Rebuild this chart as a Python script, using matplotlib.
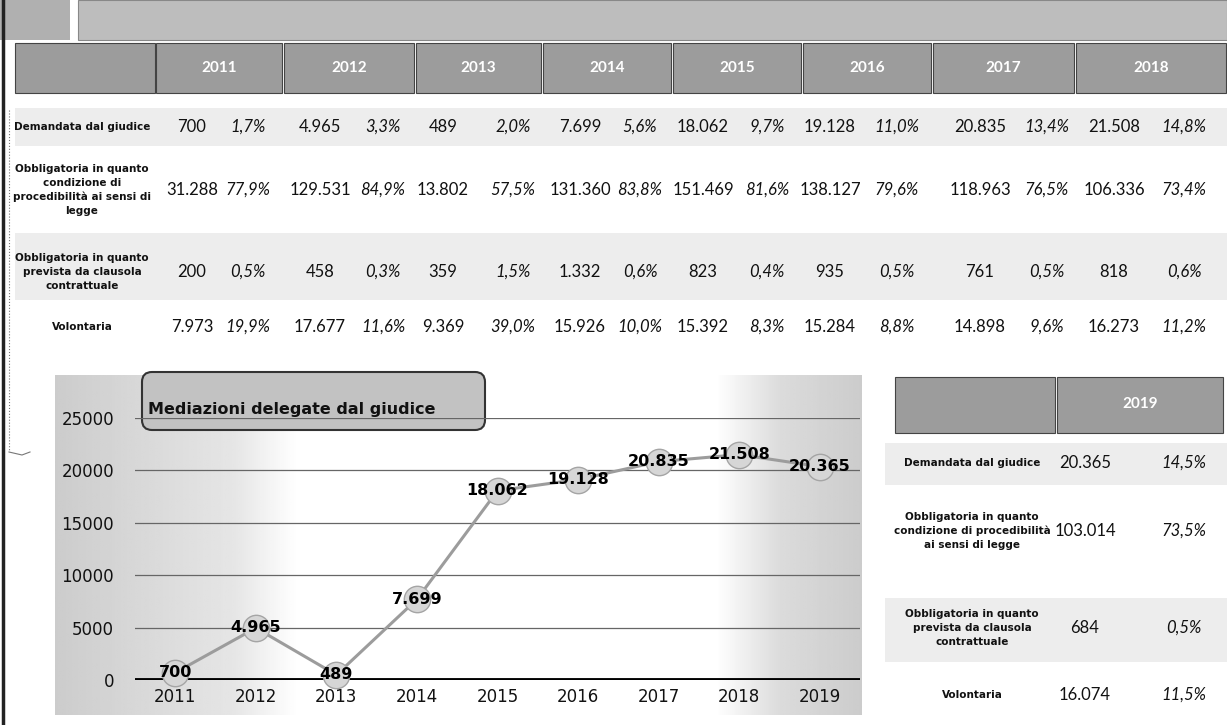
import numpy as np
import matplotlib
matplotlib.use("Agg")
import matplotlib.pyplot as plt
from matplotlib.patches import Rectangle, FancyBboxPatch

# --- data ---
years_top = ['2011', '2012', '2013', '2014', '2015', '2016', '2017', '2018']
row_labels = ['Demandata dal giudice',
              'Obbligatoria in quanto\ncondizione di\nprocedibilità ai sensi di\nlegge',
              'Obbligatoria in quanto\nprevista da clausola\ncontrattuale',
              'Volontaria']
demandata = [700, 4965, 489, 7699, 18062, 19128, 20835, 21508]
demandata_pct = [1.7, 3.3, 2.0, 5.6, 9.7, 11.0, 13.4, 14.8]
obbl_legge = [31288, 129531, 13802, 131360, 151469, 138127, 118963, 106336]
obbl_legge_pct = [77.9, 84.9, 57.5, 83.8, 81.6, 79.6, 76.5, 73.4]
clausola = [200, 458, 359, 1332, 823, 935, 761, 818]
clausola_pct = [0.5, 0.3, 1.5, 0.6, 0.4, 0.5, 0.5, 0.6]
volontaria = [7973, 17677, 9369, 15926, 15392, 15284, 14898, 16273]
volontaria_pct = [19.9, 11.6, 39.0, 10.0, 8.3, 8.8, 9.6, 11.2]

year_2019 = '2019'
row_labels_2019 = ['Demandata dal giudice',
                   'Obbligatoria in quanto\ncondizione di procedibilità\nai sensi di legge',
                   'Obbligatoria in quanto\nprevista da clausola\ncontrattuale',
                   'Volontaria']
values_2019 = [20365, 103014, 684, 16074]
pct_2019 = [14.5, 73.5, 0.5, 11.5]

chart_title = 'Mediazioni delegate dal giudice'
chart_years = ['2011', '2012', '2013', '2014', '2015', '2016', '2017', '2018', '2019']
chart_values = demandata + [values_2019[0]]


def fmt_num(v):
    return f"{v:,}".replace(',', '.')


def fmt_pct(p):
    return f"{p:.1f}%".replace('.', ',')


W, H = 1227, 725
fig = plt.figure(figsize=(W / 100, H / 100), dpi=100)
fig.patch.set_facecolor('white')

# page-sized axes in pixel units for the table layout
bg = fig.add_axes([0, 0, 1, 1], zorder=0)
bg.set_xlim(0, W)
bg.set_ylim(H, 0)
bg.axis('off')

hdr_face = '#9c9c9c'
band = '#ededed'
num_font = 'Lato'
lab_font = 'DejaVu Sans'

# top grey bars
bg.add_patch(Rectangle((0, 0), 70, 40, fc='#b0b0b0', ec='none'))
bg.add_patch(Rectangle((78, 0), W - 78, 40, fc='#bdbdbd', ec='#888888', lw=0.8))

# page edge on the left
bg.plot([3, 3], [0, H], color='#222222', lw=2.5)
bg.plot([9, 9], [110, 450], color='#777777', lw=0.8, ls=':')
bg.plot([9, 22, 30], [452, 455, 452], color='#777777', lw=0.8)

# header row of the top table
edges = [155, 283, 415, 542, 672, 802, 932, 1075, 1227]
bg.add_patch(Rectangle((15, 43), edges[0] - 15, 50, fc=hdr_face, ec='#444444', lw=0.8))
for i, yr in enumerate(years_top):
    x0, x1 = edges[i], edges[i + 1]
    bg.add_patch(Rectangle((x0 + 1, 43), x1 - x0 - 2, 50, fc=hdr_face, ec='#444444', lw=0.8))
    bg.text((x0 + x1) / 2, 68, yr, color='white', fontsize=11, fontweight='bold',
            ha='center', va='center', family=num_font)

# body of the top table
row_y = [127, 190, 272, 327]
bands = [(108, 146), (233, 300)]
for y0, y1 in bands:
    bg.add_patch(Rectangle((15, y0), W - 15, y1 - y0, fc=band, ec='none'))

val_x = [192, 320, 443, 580, 703, 830, 980, 1114]
pct_x = [248, 383, 513, 640, 767, 897, 1047, 1184]
rows = [(demandata, demandata_pct), (obbl_legge, obbl_legge_pct),
        (clausola, clausola_pct), (volontaria, volontaria_pct)]
for r, (vals, pcts) in enumerate(rows):
    y = row_y[r]
    bg.text(82, y, row_labels[r], fontsize=7.5, fontweight='bold', family=lab_font,
            ha='center', va='center', linespacing=1.45, color='#111111')
    for i in range(len(vals)):
        bg.text(val_x[i], y, fmt_num(vals[i]), fontsize=12, family=num_font,
                ha='center', va='center', color='#111111')
        bg.text(pct_x[i], y, fmt_pct(pcts[i]), fontsize=12, family=num_font,
                style='italic', ha='center', va='center', color='#111111')

# right table (2019)
bg.add_patch(Rectangle((895, 377), 160, 56, fc=hdr_face, ec='#444444', lw=0.8))
bg.add_patch(Rectangle((1057, 377), 166, 56, fc=hdr_face, ec='#444444', lw=0.8))
bg.text(1140, 404, year_2019, color='white', fontsize=11, fontweight='bold',
        ha='center', va='center', family=num_font)
row_y2 = [463, 531, 628, 695]
for y0, y1 in [(443, 485), (598, 662)]:
    bg.add_patch(Rectangle((885, y0), W - 885, y1 - y0, fc=band, ec='none'))
for r in range(4):
    y = row_y2[r]
    bg.text(972, y, row_labels_2019[r], fontsize=7.5, fontweight='bold', family=lab_font,
            ha='center', va='center', linespacing=1.45, color='#111111')
    bg.text(1085, y, fmt_num(values_2019[r]), fontsize=12, family=num_font,
            ha='center', va='center', color='#111111')
    bg.text(1184, y, fmt_pct(pct_2019[r]), fontsize=12, family=num_font,
            style='italic', ha='center', va='center', color='#111111')

# chart background: grey at both sides, white in the middle
grad_x = np.linspace(0, 1, 400)
shade = np.interp(grad_x, [0, 0.22, 0.3, 0.82, 0.9, 1.0], [0.80, 0.90, 1.0, 1.0, 0.86, 0.80])
bg.imshow(np.tile(shade, (10, 1)), cmap='gray', vmin=0, vmax=1, aspect='auto',
          extent=[55, 862, 715, 375], zorder=0.5)

# --- line chart ---
ax = fig.add_axes([135 / W, (H - 680) / H, 725 / W, 262 / H], zorder=2)
ax.set_facecolor('none')
x = np.arange(len(chart_years))
ax.set_xlim(-0.5, len(chart_years) - 0.5)
ax.set_ylim(0, 25000)
for gy in [5000, 10000, 15000, 20000, 25000]:
    ax.axhline(gy, color='#666666', lw=0.9, zorder=1)
ax.axhline(0, color='black', lw=3.5, zorder=2)
ax.plot(x, chart_values, color='#9c9c9c', lw=2.2, zorder=3,
        marker='o', markersize=19, markerfacecolor='#d6d6d6',
        markeredgecolor='#a5a5a5', markeredgewidth=1, clip_on=False)
for xi, v in zip(x, chart_values):
    ax.text(xi, v, fmt_num(v), ha='center', va='center', fontsize=11.5,
            fontweight='bold', family='DejaVu Sans', zorder=5, clip_on=False)
ax.set_xticks(x)
ax.set_xticklabels(chart_years)
ax.set_yticks([0, 5000, 10000, 15000, 20000, 25000])
ax.tick_params(length=0, labelsize=12, pad=6)
ax.tick_params(axis='y', pad=15)
for lab in ax.get_xticklabels() + ax.get_yticklabels():
    lab.set_family('DejaVu Sans')
    lab.set_color('#111111')
for s in ax.spines.values():
    s.set_visible(False)

# title box of the chart
bg.add_patch(FancyBboxPatch((142, 372), 343, 58, boxstyle='round,pad=0,rounding_size=10',
                            fc='#c2c2c2', ec='#333333', lw=1.5, zorder=3))
bg.text(148, 409, chart_title, fontsize=11.5, fontweight='bold', family='DejaVu Sans',
        ha='left', va='center', color='#111111', zorder=4)

fig.savefig('out.png', dpi=100)
